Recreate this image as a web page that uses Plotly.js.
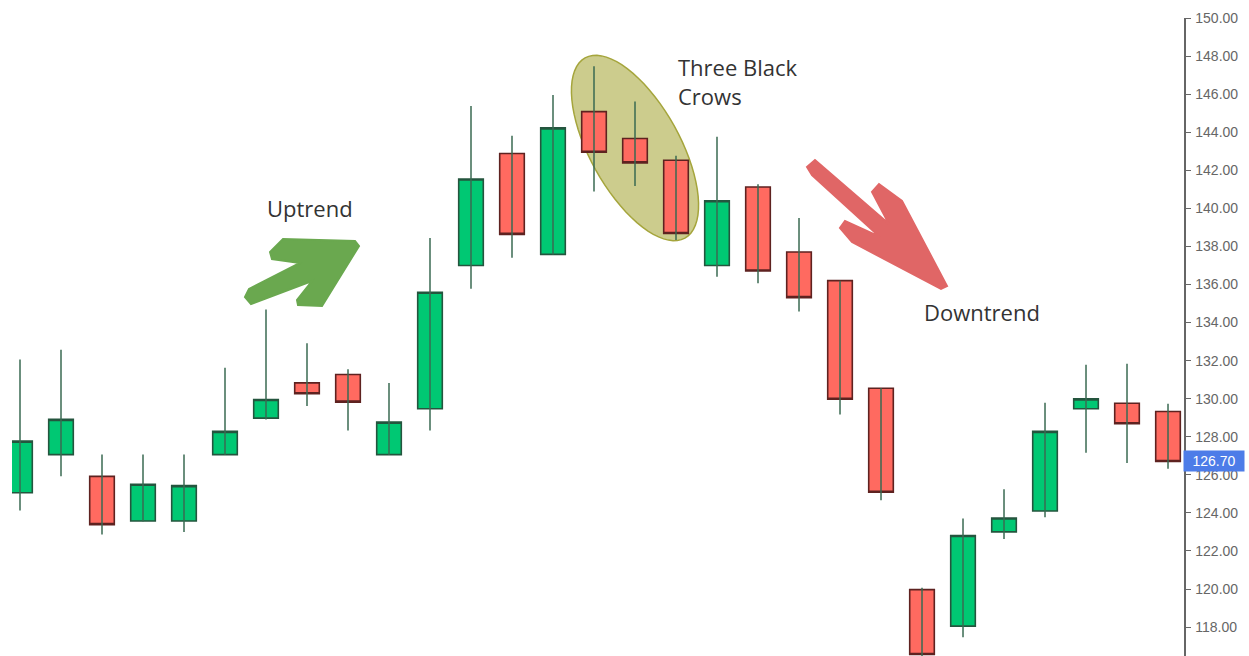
<!DOCTYPE html>
<html>
<head>
<meta charset="utf-8">
<script src="https://cdn.plot.ly/plotly-3.0.1.min.js"></script>
<style>html,body{margin:0;padding:0;background:#fff;}#chart{width:1249px;height:656px;}</style>
</head>
<body>
<div id="chart"></div>
<script>
// ---- data ----
var candleIndex = [0,1,2,3,4,5,6,7,8,9,10,11,12,13,14,15,16,17,18,19,20,21,22,23,24,25,26,27,28];
var openPrice  = [125.06,127.06,125.92,123.57,123.57,127.06,128.98,130.83,131.27,127.06,129.47,137.00,142.88,137.58,145.08,143.67,142.53,137.00,141.12,137.71,136.20,130.55,119.97,118.05,123.00,124.10,129.47,129.76,129.33];
var closePrice = [127.77,128.91,123.38,125.50,125.43,128.28,129.96,130.26,129.82,128.77,135.59,141.54,138.63,144.23,142.95,142.39,138.68,140.40,136.71,135.31,129.97,125.08,116.56,122.81,123.73,128.28,129.99,128.68,126.70];
var highPrice  = [132.06,132.57,127.07,127.07,127.07,131.62,134.68,132.91,131.55,130.83,138.44,145.38,143.81,145.96,147.47,145.61,142.76,143.76,141.27,139.49,136.20,130.55,120.06,123.70,125.24,129.78,131.78,131.83,129.73];
var lowPrice   = [124.13,125.92,122.86,123.55,123.00,127.06,128.90,129.61,128.33,127.06,128.33,135.77,137.41,137.58,140.89,141.17,138.34,136.41,136.06,134.58,129.17,124.66,116.40,117.46,122.63,123.77,127.16,126.62,126.32];
var annotationTexts = ["Uptrend","Three Black<br>Crows","Downtrend"];

// ---- layout geometry ----
var W = 1249, H = 656, ML = 12, MR = 65, MT = 18, MB = 0;
var PW = W - ML - MR, PH = H - MT - MB;
function px2x(px){ return (px - ML) / PW; }
function px2y(py){ return 1 - (py - MT) / PH; }
function pathFrom(pts){
  return pts.map(function(p,i){ return (i===0?'M':'L') + px2x(p[0]).toFixed(5) + ',' + px2y(p[1]).toFixed(5); }).join(' ') + ' Z';
}

// wicks built from data
var wx = [], wy = [];
for (var i = 0; i < candleIndex.length; i++) {
  wx.push(candleIndex[i], candleIndex[i], null);
  wy.push(lowPrice[i], highPrice[i], null);
}
var bodyHigh = openPrice.map(function(o,i){ return Math.max(o, closePrice[i]); });
var bodyLow  = openPrice.map(function(o,i){ return Math.min(o, closePrice[i]); });

var traces = [
  { type:'scatter', mode:'lines', x:wx, y:wy, line:{color:'#3a6a52', width:1.5}, hoverinfo:'skip', showlegend:false },
  { type:'candlestick', x:candleIndex, open:openPrice, close:closePrice, high:bodyHigh, low:bodyLow,
    increasing:{ fillcolor:'#00c873', line:{color:'#24553e', width:1.6} },
    decreasing:{ fillcolor:'#ff6a60', line:{color:'#5e2220', width:1.6} },
    whiskerwidth:0, hoverinfo:'skip', showlegend:false }
];

// ellipse around the three black crows
var ell = [], cx = 635, cy = 148, a = 103, b = 45, th = 61 * Math.PI / 180;
for (var k = 0; k < 72; k++) {
  var t = 2 * Math.PI * k / 72;
  ell.push([cx + a*Math.cos(t)*Math.cos(th) - b*Math.sin(t)*Math.sin(th),
            cy + a*Math.cos(t)*Math.sin(th) + b*Math.sin(t)*Math.cos(th)]);
}
var greenArrow = [[245,297],[249,289],[300,263],[272,259],[270,252],[283,239],[355,241],[359,246],[322,306],[298,305],[297,300],[312,281],[251,304]];
var redArrow = [[807,167],[815,160],[889,224],[872,192],[879,184],[902,201],[947,286],[941,289],[852,242],[840,228],[845,221],[880,237],[812,175]];

var shapes = [
  { type:'path', xref:'paper', yref:'paper', path:pathFrom(ell), fillcolor:'rgba(176,176,80,0.65)', line:{color:'#a5a53c', width:1.5}, layer:'below' },
  { type:'path', xref:'paper', yref:'paper', path:pathFrom(greenArrow), fillcolor:'#6aa84f', line:{color:'#6aa84f', width:2}, layer:'above' },
  { type:'path', xref:'paper', yref:'paper', path:pathFrom(redArrow), fillcolor:'#e06666', line:{color:'#e06666', width:2}, layer:'above' }
];

var txtFont = { family:'"Open Sans", sans-serif', size:22, color:'#333333' };
var annotations = [
  { xref:'paper', yref:'paper', x:px2x(310), y:px2y(208), text:annotationTexts[0], showarrow:false, xanchor:'center', yanchor:'middle', font:txtFont },
  { xref:'paper', yref:'paper', x:px2x(676), y:px2y(81), text:annotationTexts[1], showarrow:false, xanchor:'left', yanchor:'middle', align:'left', font:txtFont },
  { xref:'paper', yref:'paper', x:px2x(982), y:px2y(312), text:annotationTexts[2], showarrow:false, xanchor:'center', yanchor:'middle', font:txtFont },
  { xref:'paper', yref:'y', x:1, y:closePrice[closePrice.length-1], text:closePrice[closePrice.length-1].toFixed(2),
    showarrow:false, xanchor:'left', yanchor:'middle', xshift:-1, bgcolor:'#4d7ce8', borderpad:2, width:56,
    font:{ family:'"Liberation Sans", Arial, sans-serif', size:14, color:'#ffffff' } }
];

var layout = {
  width:W, height:H,
  margin:{ l:ML, r:MR, t:MT, b:MB, pad:0 },
  paper_bgcolor:'#ffffff', plot_bgcolor:'#ffffff',
  showlegend:false,
  boxgap:0.4, boxgroupgap:0,
  xaxis:{ range:[-0.195, 28.39], visible:false, rangeslider:{visible:false}, fixedrange:true },
  yaxis:{ side:'right', range:[116.48, 150.001], dtick:2, tick0:0, tickformat:'.2f',
    showgrid:false, zeroline:false, showline:true, linecolor:'#666666', linewidth:1.5,
    ticks:'outside', ticklen:5, tickcolor:'#666666', tickwidth:1, ticklabelstandoff:2,
    tickfont:{ family:'"Liberation Sans", Arial, sans-serif', size:14, color:'#666666' },
    automargin:false, fixedrange:true },
  shapes:shapes,
  annotations:annotations
};

Plotly.newPlot('chart', traces, layout, { displayModeBar:false, staticPlot:true });
</script>
</body>
</html>
